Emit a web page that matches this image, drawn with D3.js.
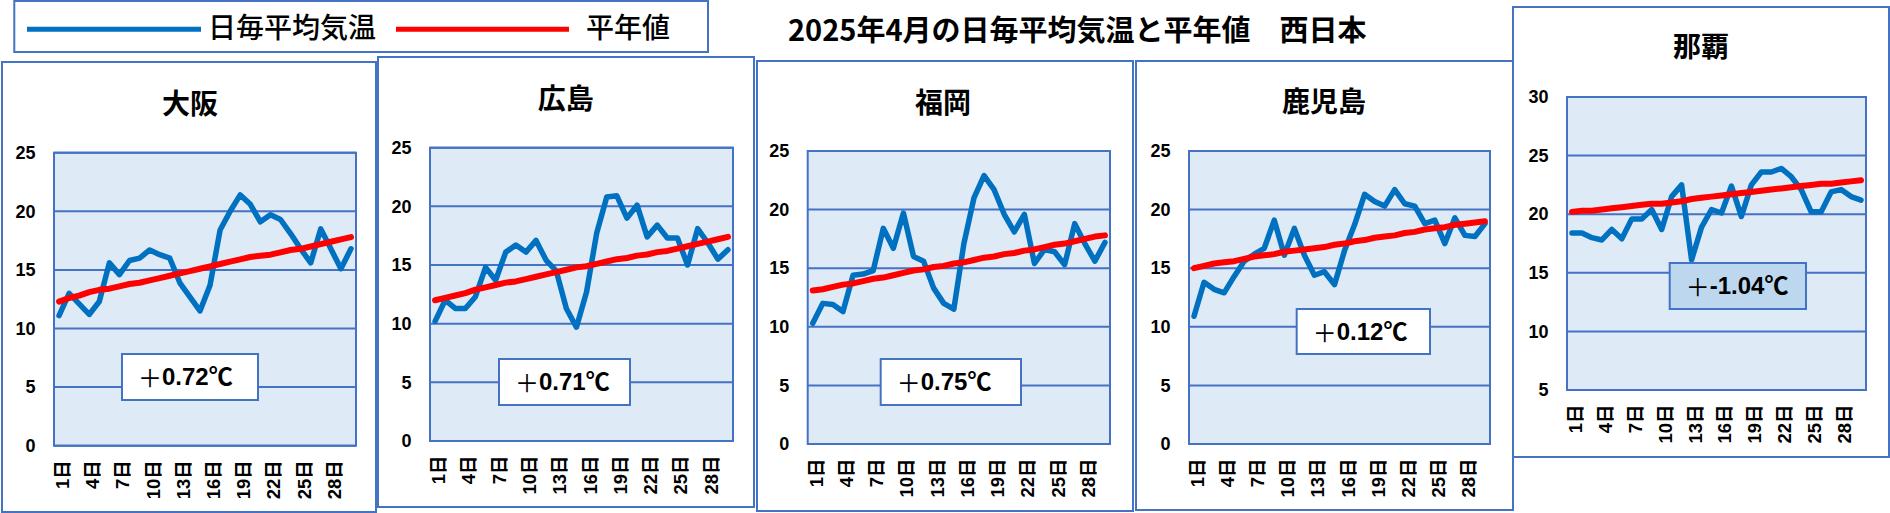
<!DOCTYPE html>
<html><head><meta charset="utf-8">
<script src="https://cdn.jsdelivr.net/npm/d3@7"></script>
<style>body{margin:0;background:#fff;} svg{display:block;}</style>
</head><body><svg id="c" width="1890" height="513"></svg>
<script>
// ---------- data ----------
const stations = ["大阪", "広島", "福岡", "鹿児島", "那覇"];
const days = d3.range(1, 31).map(d => d + "日");
const dayTickLabels = ["1日", "4日", "7日", "10日", "13日", "16日", "19日", "22日", "25日", "28日"];
const yTicksMain = [0, 5, 10, 15, 20, 25];
const yTicksNaha = [5, 10, 15, 20, 25, 30];
const diffLabels = ["0.72℃", "0.71℃", "0.75℃", "0.12℃", "-1.04℃"];
const legendLabels = ["日毎平均気温", "平年値"];
const chartTitle = "2025年4月の日毎平均気温と平年値　西日本";

const osakaDaily = [11.1,13.0,12.1,11.2,12.3,15.6,14.6,15.8,16.0,16.7,16.3,16.0,13.9,12.7,11.5,13.7,18.4,20.0,21.4,20.6,19.1,19.7,19.3,18.1,16.8,15.6,18.5,16.8,15.1,16.8];
const osakaNormal = [12.3,12.6,12.8,13.1,13.3,13.4,13.6,13.8,13.9,14.1,14.3,14.5,14.7,14.9,15.1,15.3,15.5,15.7,15.9,16.1,16.2,16.3,16.5,16.7,16.8,17.0,17.2,17.4,17.6,17.8];
const hiroshimaDaily = [10.2,12.0,11.3,11.3,12.3,14.8,13.7,16.1,16.7,16.1,17.1,15.4,14.5,11.3,9.7,12.7,17.7,20.8,20.9,19.0,20.1,17.4,18.4,17.3,17.3,15.0,18.1,16.9,15.5,16.3];
const hiroshimaNormal = [12.0,12.2,12.4,12.6,12.9,13.1,13.3,13.5,13.6,13.8,14.0,14.2,14.4,14.6,14.8,14.9,15.1,15.3,15.5,15.6,15.8,15.9,16.1,16.2,16.4,16.6,16.8,17.0,17.2,17.4];
const fukuokaDaily = [10.3,12.0,11.9,11.3,14.4,14.5,14.8,18.4,16.7,19.7,16.0,15.6,13.3,12.0,11.5,17.1,21.0,22.9,21.7,19.6,18.1,19.6,15.4,16.6,16.4,15.3,18.8,17.1,15.6,17.2];
const fukuokaNormal = [13.1,13.2,13.4,13.6,13.7,13.9,14.1,14.2,14.4,14.6,14.8,14.9,15.1,15.2,15.4,15.5,15.7,15.9,16.0,16.2,16.3,16.5,16.6,16.8,17.0,17.1,17.3,17.5,17.7,17.8];
const kagoshimaDaily = [10.9,13.8,13.2,12.9,14.3,15.6,16.2,16.7,19.1,16.1,18.4,16.1,14.4,14.7,13.6,16.5,18.7,21.3,20.7,20.3,21.7,20.5,20.3,18.8,19.1,17.1,19.3,17.8,17.7,18.8];
const kagoshimaNormal = [15.0,15.2,15.4,15.5,15.6,15.8,16.0,16.1,16.2,16.4,16.5,16.6,16.7,16.8,17.0,17.1,17.3,17.4,17.6,17.7,17.8,18.0,18.1,18.3,18.4,18.5,18.7,18.8,18.9,19.0];
const nahaDaily = [18.4,18.4,18.0,17.8,18.7,17.9,19.6,19.6,20.4,18.7,21.5,22.5,16.1,18.9,20.4,20.1,22.4,19.8,22.5,23.6,23.6,23.9,23.2,22.1,20.2,20.2,21.9,22.1,21.5,21.2];
const nahaNormal = [20.2,20.3,20.3,20.4,20.5,20.6,20.7,20.8,20.9,20.9,21.0,21.1,21.3,21.4,21.5,21.6,21.7,21.8,21.9,22.0,22.1,22.2,22.3,22.4,22.5,22.6,22.6,22.7,22.8,22.9];

const dailySeries = [osakaDaily, hiroshimaDaily, fukuokaDaily, kagoshimaDaily, nahaDaily];
const normalSeries = [osakaNormal, hiroshimaNormal, fukuokaNormal, kagoshimaNormal, nahaNormal];
const yTickSets = [yTicksMain, yTicksMain, yTicksMain, yTicksMain, yTicksNaha];

// ---------- layout ----------
const BLUE = "#0070C0", RED = "#FF0000", EDGE = "#4472C4", PLOTBG = "#DEEAF6";
const layout = [
  {frame:[2,62,376,512],    plot:[54,152.7,356,445.7], title:[190,101.7], box:[122,354,258,400], boxFill:"#fff"},
  {frame:[378,57,754,507],  plot:[430,147.7,733,441],  title:[565.7,96.7], box:[499,359,630,405], boxFill:"#fff"},
  {frame:[757,61,1133,511], plot:[807.7,151,1110,444], title:[943,100.5],  box:[880.7,359,1021,405], boxFill:"#fff"},
  {frame:[1136,61,1513,510],plot:[1189,151,1490,444],  title:[1324,100],   box:[1296.7,309,1430,354], boxFill:"#fff"},
  {frame:[1513,7,1889,457], plot:[1567,97,1866,390],   title:[1701,45],    box:[1669.7,263,1806,309], boxFill:"#BDD7EE"}
];
const FONT_SANS = "'Liberation Sans', Arial, 'Noto Sans CJK JP', sans-serif";
const FONT_JP = "'Noto Sans CJK JP', 'Noto Sans CJK SC', sans-serif";

const svg = d3.select("#c");

// ---------- legend ----------
const lg = svg.append("g");
lg.append("rect").attr("x",14.3).attr("y",1).attr("width",693.7).attr("height",51)
  .attr("fill","#fff").attr("stroke",EDGE).attr("stroke-width",2);
const legendItems = [
  {label: legendLabels[0], color: BLUE, x1: 27, x2: 201, tx: 208},
  {label: legendLabels[1], color: RED, x1: 396, x2: 569, tx: 586}
];
legendItems.forEach(it => {
  lg.append("line").attr("x1",it.x1).attr("x2",it.x2).attr("y1",29.3).attr("y2",29.3)
    .attr("stroke",it.color).attr("stroke-width",5);
  lg.append("text").attr("x",it.tx).attr("y",25.5).attr("dominant-baseline","central")
    .attr("font-family",FONT_JP).attr("font-size",28).attr("font-weight",500)
    .attr("fill","#000").text(it.label);
});

// ---------- title ----------
svg.append("text").attr("x",788).attr("y",27.5).attr("dominant-baseline","central")
  .attr("font-family",FONT_JP).attr("font-size",29).attr("font-weight",700)
  .attr("fill","#000").text(chartTitle);

// ---------- panels ----------
stations.forEach((name, i) => {
  const L = layout[i];
  const g = svg.append("g");
  const [fx1, fy1, fx2, fy2] = L.frame;
  g.append("rect").attr("x",fx1).attr("y",fy1).attr("width",fx2-fx1).attr("height",fy2-fy1)
    .attr("fill","#fff").attr("stroke",EDGE).attr("stroke-width",2);

  const [px1, py1, px2, py2] = L.plot;
  const ticks = yTickSets[i];
  const x = d3.scaleBand().domain(days).range([px1, px2]).paddingInner(0).paddingOuter(0);
  const y = d3.scaleLinear().domain([ticks[0], ticks[ticks.length-1]]).range([py2, py1]);

  g.append("rect").attr("x",px1).attr("y",py1).attr("width",px2-px1).attr("height",py2-py1)
    .attr("fill",PLOTBG);

  // gridlines
  g.append("g").selectAll("line").data(ticks).join("line")
    .attr("x1",px1).attr("x2",px2).attr("y1",d=>y(d)).attr("y2",d=>y(d))
    .attr("stroke",EDGE).attr("stroke-width",2);

  g.append("rect").attr("x",px1).attr("y",py1).attr("width",px2-px1).attr("height",py2-py1)
    .attr("fill","none").attr("stroke",EDGE).attr("stroke-width",2);

  // y axis
  const ya = g.append("g").attr("transform",`translate(${px1},0)`)
    .call(d3.axisLeft(y).tickValues(ticks).tickSize(0).tickPadding(18.5).tickFormat(d3.format("d")));
  ya.select(".domain").remove();
  ya.selectAll("text").attr("font-family",FONT_SANS).attr("font-size",18).attr("font-weight",700)
    .attr("fill","#000");

  // x axis
  const xa = g.append("g").attr("transform",`translate(0,${py2})`)
    .call(d3.axisBottom(x).tickValues(dayTickLabels).tickSize(0));
  xa.select(".domain").remove();
  xa.selectAll("text")
    .attr("font-family",FONT_SANS).attr("font-size",18.5).attr("font-weight",700).attr("fill","#000")
    .attr("transform","rotate(-90)")
    .attr("text-anchor","end").attr("x",-14.5).attr("y",3.5).attr("dy","0.35em");

  // lines
  const line = d3.line().x((d,j)=>x(days[j]) + x.bandwidth()/2).y(d=>y(d));
  g.append("path").datum(dailySeries[i]).attr("d",line).attr("fill","none")
    .attr("stroke",BLUE).attr("stroke-width",5.5).attr("stroke-linejoin","round").attr("stroke-linecap","round");
  g.append("path").datum(normalSeries[i]).attr("d",line).attr("fill","none")
    .attr("stroke",RED).attr("stroke-width",6).attr("stroke-linejoin","round").attr("stroke-linecap","round");

  // title
  g.append("text").attr("x",L.title[0]).attr("y",L.title[1]).attr("text-anchor","middle")
    .attr("dominant-baseline","central").attr("font-family",FONT_JP).attr("font-size",28)
    .attr("font-weight",700).attr("fill","#000").text(name);

  // annotation box
  const [bx1, by1, bx2, by2] = L.box;
  g.append("rect").attr("x",bx1).attr("y",by1).attr("width",bx2-bx1).attr("height",by2-by1)
    .attr("fill",L.boxFill).attr("stroke",EDGE).attr("stroke-width",2);
  const t = g.append("text").attr("x",bx1+16).attr("y",(by1+by2)/2 - 1).attr("dominant-baseline","central")
    .attr("font-size",24).attr("fill","#000");
  t.append("tspan").attr("font-family",FONT_JP).attr("font-weight",400).text("＋");
  t.append("tspan").attr("font-family",FONT_SANS).attr("font-weight",700).text(diffLabels[i]);
});
</script>
</body></html>
